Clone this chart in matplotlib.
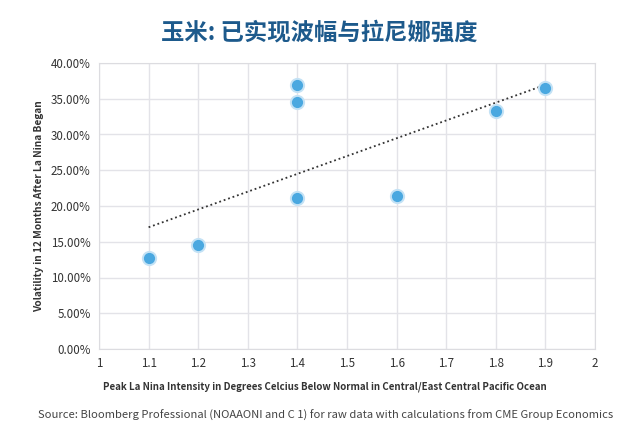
import numpy as np
import matplotlib
matplotlib.use('Agg')
import matplotlib.pyplot as plt
from matplotlib.ticker import FuncFormatter

# 数据
intensity = [1.1, 1.2, 1.4, 1.4, 1.4, 1.6, 1.8, 1.9]
volatility = [0.127, 0.145, 0.369, 0.345, 0.211, 0.214, 0.333, 0.365]

plt.rcParams['font.family'] = ['Noto Sans CJK SC', 'DejaVu Sans']

fig = plt.figure(figsize=(6.4, 4.44), dpi=100)
ax = fig.add_axes([99 / 640, 1 - 349 / 444, 496 / 640, 286 / 444])

# 趋势线
k, b = np.polyfit(intensity, volatility, 1)
xs = np.array([min(intensity), max(intensity)])
ax.plot(xs, k * xs + b, linestyle=(0, (1, 1.6)), color='#333333', linewidth=1.3, zorder=2)

ax.scatter(intensity, volatility, s=120, color='#c4e2f5', zorder=3, linewidths=0)
ax.scatter(intensity, volatility, s=65, color='#4aa8e0', zorder=4, linewidths=0)

ax.set_xlim(1, 2)
ax.set_ylim(0, 0.4)
ax.set_xticks(np.arange(1, 2.01, 0.1))
ax.set_xticklabels(['1', '1.1', '1.2', '1.3', '1.4', '1.5', '1.6', '1.7', '1.8', '1.9', '2'])
ax.set_yticks(np.arange(0, 0.401, 0.05))
ax.yaxis.set_major_formatter(FuncFormatter(lambda v, p: f'{v * 100:.2f}%'))
ax.grid(True, color='#e3e3e8', linewidth=1)
ax.set_axisbelow(True)
for s in ax.spines.values():
    s.set_color('#dcdce0')
ax.tick_params(length=0, labelsize=8.3, colors='#333333', pad=6)

ax.set_xlabel('Peak La Nina Intensity in Degrees Celcius Below Normal in Central/East Central Pacific Ocean',
              fontsize=7, fontweight='bold', color='#333333', labelpad=8, x=0.455)
ax.set_ylabel('Volatility in 12 Months After La Nina Began', fontsize=7.3, fontweight='bold',
              color='#333333', labelpad=5)

fig.text(319 / 640, 1 - 32 / 444, '玉米: 已实现波幅与拉尼娜强度', ha='center', va='center',
         fontsize=16.8, fontweight='bold', color='#1d5a8c')
fig.text(38 / 640, 1 - 415 / 444,
         'Source: Bloomberg Professional (NOAAONI and C 1) for raw data with calculations from CME Group Economics',
         ha='left', va='center', fontsize=8.05, color='#444444')

fig.savefig('out.png', dpi=100)
